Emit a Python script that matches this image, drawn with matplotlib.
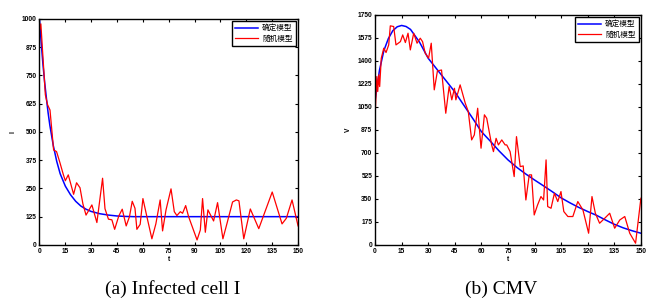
import matplotlib
matplotlib.use("Agg")
import matplotlib.pyplot as plt

# ---- panel (a): infected cells I ----
t_det_i = [0, 1, 2, 3, 4, 5, 6, 8, 10, 12, 15, 18, 21, 24, 27, 30, 35, 40, 45, 50, 55,
           60, 75, 90, 105, 120, 135, 150]
i_det = [1000, 895, 800, 720, 650, 585, 530, 440, 370, 315, 260, 222, 193, 172, 158, 148,
         138, 132, 128, 126, 125, 125, 125, 125, 125, 125, 125, 125]

t_sto_i = [0, 0.8, 3.4, 4.7, 6.1, 8.2, 9.9, 11.9, 13.8, 15, 16.7, 19.8, 21.5, 23.5, 25.2,
           27, 30.4, 33.3, 36.6, 38, 40, 42, 43.6, 46, 48, 50.3, 52.2, 53.8, 55.4, 56.5,
           58.4, 60, 62.3, 65.2, 67.5, 70, 71.4, 73.4, 76.3, 78.2, 79.7, 81.7, 83, 84.8,
           86.5, 91.4, 93.3, 94.6, 96.2, 97.7, 101, 103.3, 106.4, 108.8, 112, 114.2, 115.7,
           118.5, 122.3, 127.2, 135, 140.7, 143.2, 146.5, 150]
i_sto = [950, 978, 664, 620, 597, 420, 413, 363, 312, 284, 310, 224, 275, 253, 181,
         132, 177, 99, 295, 160, 114, 111, 69, 128, 158, 84, 125, 193, 162, 69,
         91, 205, 125, 27, 93, 199, 62, 155, 248, 147, 130, 147, 140, 174,
         125, 22, 66, 205, 56, 155, 106, 187, 27, 96, 190, 199, 195,
         27, 159, 72, 234, 93, 118, 199, 84]

# ---- panel (b): CMV V ----
t_det_v = [0, 2.5, 5, 7.5, 10, 12.5, 15, 17.5, 20, 25, 30, 35, 40, 45, 50, 55, 60, 65, 70,
           75, 80, 85, 90, 95, 100, 105, 110, 115, 120, 125, 130, 135, 140, 145, 150]
v_det = [1100, 1330, 1480, 1570, 1630, 1660, 1670, 1662, 1640, 1545, 1420, 1335, 1250,
         1165, 1065, 965, 862, 790, 715, 647, 590, 540, 494, 450, 405, 358, 320, 285, 254,
         225, 190, 157, 130, 108, 89]

t_sto_v = [0, 0.5, 1, 1.5, 2.1, 2.6, 3.5, 4.9, 6.2, 7.7, 8.6, 10.5, 11.8, 14.3, 15.6, 17.1,
           18.6, 19.9, 21.8, 23.7, 25.5, 26.8, 28.3, 30.2, 31.7, 33.4, 35.2, 37.5, 39.9,
           41.8, 43.3, 44.8, 45.6, 48, 50.9, 52.6, 54.5, 56, 57.9, 59.8, 61.7, 63, 65.8,
           66.8, 68.3, 69.6, 71.5, 73.4, 74.3, 76.2, 78.5, 79.8, 81.9, 83.6, 85.1, 87, 88.3,
           89.8, 91.7, 93.6, 95.1, 96.5, 97.4, 99.3, 101.2, 103.1, 104.9, 106.5, 108.8,
           111.6, 114.4, 117.3, 120.5, 122.4, 124.3, 126.7, 129.6, 132.4, 135.2, 138.1,
           140.9, 143.7, 147, 150]
v_sto = [970, 1128, 1281, 1167, 1294, 1205, 1420, 1497, 1464, 1522, 1667, 1662, 1522, 1547,
         1598, 1540, 1611, 1484, 1611, 1535, 1573, 1547, 1459, 1421, 1535, 1180, 1324, 1331,
         1002, 1205, 1104, 1192, 1104, 1218, 1078, 1015, 799, 837, 1040, 736, 990, 964, 761,
         710, 811, 761, 799, 761, 761, 710, 520, 824, 596, 601, 342, 533, 533, 228, 304, 368,
         342, 647, 292, 279, 393, 330, 406, 254, 216, 216, 330, 266, 89, 368, 241, 165, 203,
         241, 127, 190, 216, 89, 13, 355]

xticks = list(range(0, 151, 15))
yticks_i = list(range(0, 1001, 125))
yticks_v = list(range(0, 1751, 175))
legend_labels = ["确定模型", "随机模型"]
captions = ["(a) Infected cell I", "(b) CMV"]

tick_font = {"family": "Liberation Sans", "weight": "bold", "size": 4.8}
cjk = ["Noto Sans CJK SC", "DejaVu Sans"]

fig = plt.figure(figsize=(6.58, 3.05), dpi=100)
ax1 = fig.add_axes([0.060, 0.197, 0.393, 0.741])
ax2 = fig.add_axes([0.570, 0.197, 0.404, 0.754])

panels = [
    (ax1, t_det_i, i_det, t_sto_i, i_sto, yticks_i, "I"),
    (ax2, t_det_v, v_det, t_sto_v, v_sto, yticks_v, "V"),
]
for ax, td, yd, ts, ys, yt, ylab in panels:
    ax.plot(td, yd, color="#0000ff", lw=1.1, label=legend_labels[0])
    ax.plot(ts, ys, color="#ff0000", lw=0.9, label=legend_labels[1])
    ax.set_xlim(0, 150)
    ax.set_ylim(0, yt[-1])
    ax.set_xticks(xticks)
    ax.set_yticks(yt)
    ax.set_xticklabels([str(v) for v in xticks], fontdict=tick_font)
    ax.set_yticklabels([str(v) for v in yt], fontdict=tick_font)
    ax.tick_params(direction="in", length=2.5, width=0.8, pad=2,
                   top=True, right=True)
    for s in ax.spines.values():
        s.set_linewidth(1.0)
    ax.set_xlabel("t", fontdict=tick_font, labelpad=1)
    ax.set_ylabel(ylab, fontdict=tick_font, labelpad=4)
    leg = ax.legend(loc="upper right", prop={"family": cjk, "size": 5.5},
                    fancybox=False, edgecolor="black", framealpha=1,
                    borderpad=0.4, handlelength=3.0, handletextpad=0.5,
                    labelspacing=0.35, borderaxespad=0.3)
    leg.get_frame().set_linewidth(1.0)

fig.text(0.262, 0.052, captions[0], family="Liberation Serif", fontsize=14,
         ha="center", va="center")
fig.text(0.762, 0.052, captions[1], family="Liberation Serif", fontsize=14,
         ha="center", va="center")

fig.savefig("out.png", dpi=100)
